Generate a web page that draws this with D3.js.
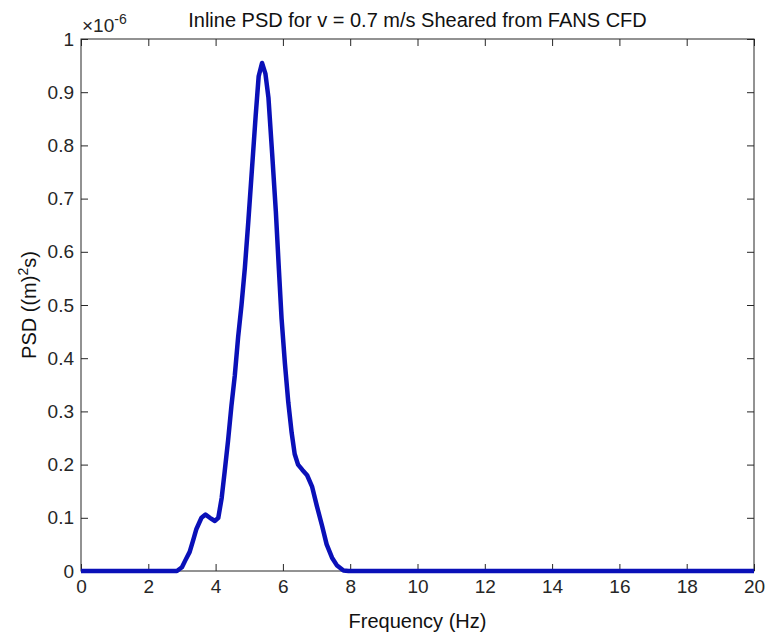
<!DOCTYPE html>
<html>
<head>
<meta charset="utf-8">
<script src="https://cdn.jsdelivr.net/npm/d3@7"></script>
<style>
  html, body { margin: 0; padding: 0; background: #fff; }
  svg { display: block; font-family: "Liberation Sans", Arial, sans-serif; }
</style>
</head>
<body>
<div id="chart"></div>
<script>
// Inline PSD, values in units of 1e-6 (m)^2 s.
const freqHz = [0, 1, 2, 2.85, 3.0, 3.1, 3.23, 3.33, 3.43, 3.58, 3.7, 3.83, 3.98, 4.08, 4.18, 4.27, 4.37, 4.47,
  4.57, 4.67, 4.77, 4.87, 4.97, 5.08, 5.19, 5.28, 5.38, 5.48, 5.57, 5.68, 5.79, 5.88, 5.96, 6.06, 6.16,
  6.26, 6.35, 6.45, 6.58, 6.72, 6.87, 7.01, 7.16, 7.3, 7.46, 7.6, 7.8, 7.95, 10, 15, 20];
const psd = [0, 0, 0, 0, 0.007, 0.02, 0.036, 0.057, 0.079, 0.1, 0.106, 0.1, 0.094, 0.1, 0.137, 0.187, 0.245, 0.31,
  0.367, 0.44, 0.5, 0.57, 0.655, 0.755, 0.855, 0.93, 0.955, 0.935, 0.89, 0.785, 0.676, 0.568, 0.475, 0.39, 0.317,
  0.26, 0.22, 0.2, 0.19, 0.18, 0.158, 0.122, 0.086, 0.05, 0.025, 0.011, 0.001, 0, 0, 0, 0];
const xTicks = [0, 2, 4, 6, 8, 10, 12, 14, 16, 18, 20];
const yTicks = [0, 0.1, 0.2, 0.3, 0.4, 0.5, 0.6, 0.7, 0.8, 0.9, 1];

const width = 769, height = 637;
const m = { top: 39, right: 15, bottom: 66, left: 81 };
const iw = width - m.left - m.right;
const ih = height - m.top - m.bottom;
const axisColor = "#262626";
const textColor = "#262626";

const svg = d3.select("#chart").append("svg")
  .attr("width", width).attr("height", height).attr("viewBox", `0 0 ${width} ${height}`);
const g = svg.append("g").attr("transform", `translate(${m.left},${m.top})`);

const x = d3.scaleLinear().domain([0, 20]).range([0, iw]);
const y = d3.scaleLinear().domain([0, 1]).range([ih, 0]);

const pts = freqHz.map((f, i) => ({ f, v: psd[i] }));

// box
g.append("rect").attr("width", iw).attr("height", ih)
  .attr("fill", "none").attr("stroke", axisColor).attr("stroke-width", 1);

function styleAxis(sel) {
  sel.select(".domain").remove();
  sel.selectAll(".tick line").attr("stroke", axisColor);
  sel.selectAll(".tick text").attr("fill", textColor).attr("font-size", 19);
}

// bottom + left axes with inward ticks
g.append("g").attr("transform", `translate(0,${ih})`)
  .call(d3.axisBottom(x).tickValues(xTicks).tickSizeInner(-7).tickSizeOuter(0).tickPadding(9).tickFormat(d3.format("d")))
  .call(styleAxis);
g.append("g")
  .call(d3.axisLeft(y).tickValues(yTicks).tickSizeInner(-7).tickSizeOuter(0).tickPadding(7)
    .tickFormat((d) => d === 0 || d === 1 ? String(d) : d3.format(".1f")(d)))
  .call(styleAxis);
// top + right mirrored ticks, no labels
g.append("g")
  .call(d3.axisTop(x).tickValues(xTicks).tickSizeInner(-7).tickSizeOuter(0).tickFormat(""))
  .call(styleAxis);
g.append("g").attr("transform", `translate(${iw},0)`)
  .call(d3.axisRight(y).tickValues(yTicks).tickSizeInner(-7).tickSizeOuter(0).tickFormat(""))
  .call(styleAxis);

// the PSD line
g.append("path").datum(pts)
  .attr("fill", "none").attr("stroke", "#0a10b8").attr("stroke-width", 4.5).attr("stroke-linejoin", "round")
  .attr("d", d3.line().x((p) => x(p.f)).y((p) => y(p.v)));

// exponent marker
const ex = svg.append("text").attr("x", m.left + 1).attr("y", m.top - 7)
  .attr("font-size", 19).attr("fill", textColor);
ex.append("tspan").text("\u00d710");
ex.append("tspan").attr("dy", -8).attr("font-size", 14).text("-6");

// title
svg.append("text").attr("x", m.left + iw / 2).attr("y", 27).attr("text-anchor", "middle")
  .attr("font-size", 20).attr("fill", "#111")
  .text("Inline PSD for v = 0.7 m/s Sheared from FANS CFD");

// axis labels
svg.append("text").attr("x", m.left + iw / 2).attr("y", 628).attr("text-anchor", "middle")
  .attr("font-size", 20).attr("fill", "#111").text("Frequency (Hz)");

const yl = svg.append("text").attr("transform", `translate(36,${m.top + ih / 2}) rotate(-90)`)
  .attr("text-anchor", "middle").attr("font-size", 20).attr("fill", "#111");
yl.append("tspan").text("PSD ((m)");
yl.append("tspan").attr("dy", -8).attr("font-size", 14).text("2");
yl.append("tspan").attr("dy", 8).text("s)");
</script>
</body>
</html>
